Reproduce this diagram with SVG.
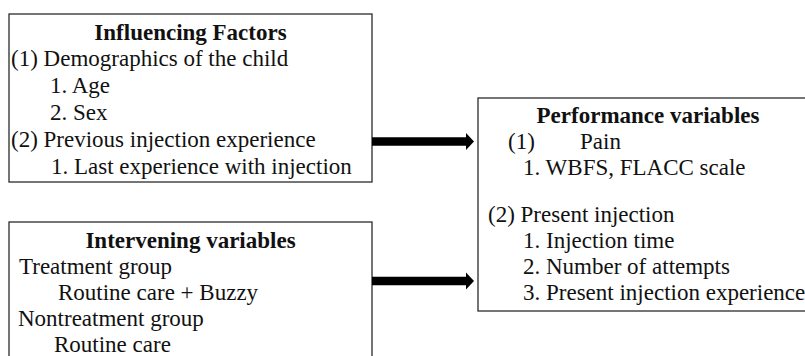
<svg xmlns="http://www.w3.org/2000/svg" width="805" height="356" viewBox="0 0 805 356">
  <style>
    .box { fill: #ffffff; stroke: #2b2b2b; stroke-width: 1.3; }
    .t { font-family: "Liberation Serif", "Times New Roman", serif; font-size: 23px; fill: #111111; }
    .b { font-weight: bold; text-anchor: middle; }
    .arrow { fill: #000000; }
  </style>
  <rect width="805" height="356" fill="#ffffff"/>
  <g id="influencing-factors">
    <rect class="box" x="9" y="14" width="363" height="168"/>
    <text class="t b" x="190.5" y="40">Influencing Factors</text>
    <text class="t" x="11" y="66">(1) Demographics of the child</text>
    <text class="t" x="50" y="93">1. Age</text>
    <text class="t" x="50" y="120">2. Sex</text>
    <text class="t" x="11" y="147">(2) Previous injection experience</text>
    <text class="t" x="51" y="174">1. Last experience with injection</text>
  </g>
  <g id="intervening-variables">
    <rect class="box" x="9" y="222" width="363" height="140"/>
    <text class="t b" x="190.5" y="248">Intervening variables</text>
    <text class="t" x="19" y="274">Treatment group</text>
    <text class="t" x="58" y="300">Routine care + Buzzy</text>
    <text class="t" x="18" y="326">Nontreatment group</text>
    <text class="t" x="54" y="352">Routine care</text>
  </g>
  <g id="performance-variables">
    <rect class="box" x="478" y="98" width="340" height="213"/>
    <text class="t b" x="648" y="123">Performance variables</text>
    <text class="t" x="508" y="149">(1)</text>
    <text class="t" x="580" y="149">Pain</text>
    <text class="t" x="523" y="175">1. WBFS, FLACC scale</text>
    <text class="t" x="488" y="222">(2) Present injection</text>
    <text class="t" x="523" y="248">1. Injection time</text>
    <text class="t" x="523" y="274">2. Number of attempts</text>
    <text class="t" x="523" y="300">3. Present injection experience</text>
  </g>
  <g id="connectors">
    <path class="arrow" d="M372,137.3 L466,137.3 L466,133 L474,141.5 L466,150 L466,145.7 L372,145.7 Z"/>
    <path class="arrow" d="M372,276.8 L466,276.8 L466,272.5 L474,281 L466,289.5 L466,285.2 L372,285.2 Z"/>
  </g>
</svg>
